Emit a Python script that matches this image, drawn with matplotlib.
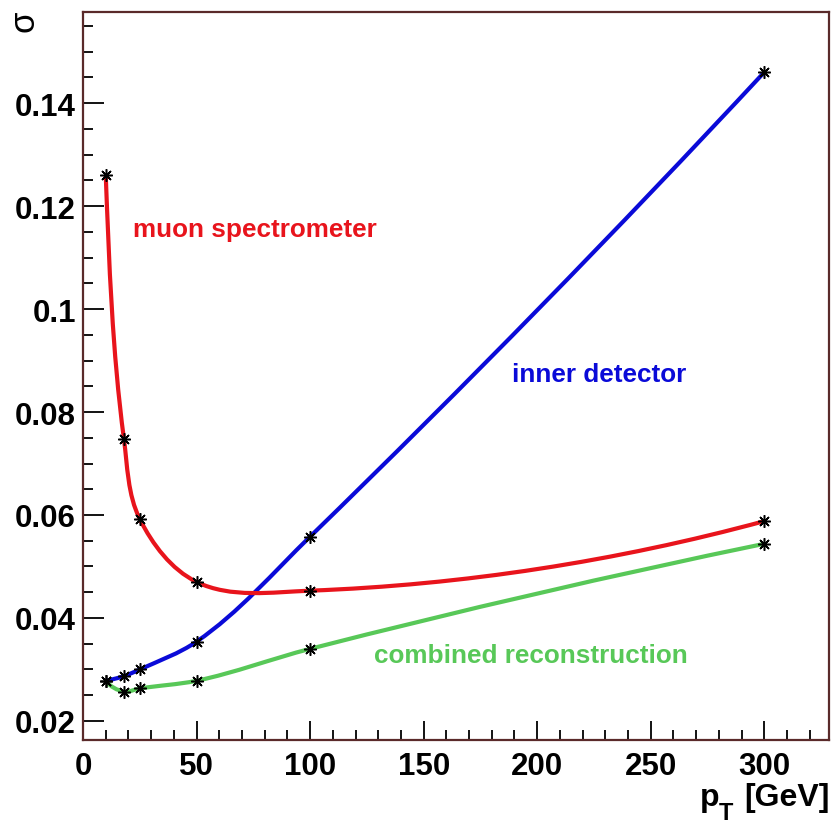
import matplotlib
matplotlib.use('Agg')
from matplotlib import pyplot as plt
from matplotlib.path import Path
from matplotlib.patches import PathPatch
from matplotlib.ticker import MultipleLocator
import numpy as np

plt.rcParams['font.family'] = ['Liberation Sans', 'DejaVu Sans']

pt = [10, 18, 25, 50, 100, 300]
muon = [0.126, 0.0748, 0.0592, 0.0470, 0.0453, 0.0588]
inner = [0.0278, 0.0287, 0.0300, 0.0354, 0.0558, 0.1460]
combined = [0.0277, 0.0257, 0.0263, 0.0278, 0.0340, 0.0544]

xlim = (0, 328.5)
ylim = (0.0163, 0.1577)

fig = plt.figure(figsize=(8.37, 8.28), dpi=100)
ax = fig.add_axes([0.0992, 0.1051, 0.8912, 0.8792])
ax.set_xlim(*xlim)
ax.set_ylim(*ylim)

# axes size in pixels, curves are smoothed in screen space like ROOT's "C" option
w_px = 0.8912 * 837
h_px = 0.8792 * 828


def unit(v):
    return v / np.linalg.norm(v)


def smooth_path(x, y):
    # hermite spline through the points in screen space, drawn as bezier path
    sx = w_px / (xlim[1] - xlim[0])
    sy = h_px / (ylim[1] - ylim[0])
    p = np.column_stack([np.asarray(x) * sx, np.asarray(y) * sy])
    n = len(p)
    h = np.linalg.norm(np.diff(p, axis=0), axis=1)
    s = np.diff(p, axis=0) / h[:, None]
    d = np.zeros_like(p)
    for i in range(1, n - 1):
        a = (s[i - 1] * h[i] + s[i] * h[i - 1]) / (h[i - 1] + h[i])
        b = unit(p[i + 1] - p[i - 1])
        d[i] = unit(a + b)
    u = unit(p[2] - p[0])
    d[0] = 2 * np.dot(s[0], u) * s[0] - u
    d[-1] = unit(2 * s[-1] - d[-2])
    verts = [p[0]]
    codes = [Path.MOVETO]
    for i in range(n - 1):
        verts += [p[i] + h[i] * d[i] / 3, p[i + 1] - h[i] * d[i + 1] / 3, p[i + 1]]
        codes += [Path.CURVE4] * 3
    verts = np.array(verts)
    verts[:, 0] /= sx
    verts[:, 1] /= sy
    return Path(verts, codes)


for ys, col in [(inner, '#0a0ad8'), (combined, '#58c858'), (muon, '#e8141c')]:
    ax.add_patch(PathPatch(smooth_path(pt, ys), facecolor='none',
                           edgecolor=col, lw=3, zorder=2))
    ax.plot(pt, ys, ls='none', marker=(8, 2, 0), ms=9, mew=1.1,
            color='black', zorder=3)

ax.text(22, 0.1155, 'muon spectrometer', color='#e8141c', fontsize=18.8,
        fontweight='bold', va='center', ha='left')
ax.text(189, 0.0874, 'inner detector', color='#0a0ad8', fontsize=18.8,
        fontweight='bold', va='center', ha='left')
ax.text(128, 0.0329, 'combined reconstruction', color='#58c858', fontsize=18.8,
        fontweight='bold', va='center', ha='left')

for s in ['top', 'right', 'left', 'bottom']:
    ax.spines[s].set_color('#5a2a2a')
    ax.spines[s].set_linewidth(1.6)

ax.xaxis.set_minor_locator(MultipleLocator(10))
ax.yaxis.set_minor_locator(MultipleLocator(0.005))
ax.tick_params(which='both', direction='in', top=False, right=False,
               color='black', width=1.3)
ax.tick_params(which='major', length=15, labelsize=22.5)
ax.tick_params(axis='x', which='major', length=14, pad=8)
ax.tick_params(axis='y', which='major', pad=5)
ax.tick_params(which='minor', length=7.5)
ax.set_xticks([0, 50, 100, 150, 200, 250, 300])
ax.set_xticklabels(['0', '50', '100', '150', '200', '250', '300'],
                   fontweight='bold')
ax.set_yticks([0.02, 0.04, 0.06, 0.08, 0.1, 0.12, 0.14])
ax.set_yticklabels(['0.02', '0.04', '0.06', '0.08', '0.1', '0.12', '0.14'],
                   fontweight='bold')

fig.text(0.0285, 0.9746, 'σ', fontsize=25, rotation=90, ha='center', va='center')
fig.text(700 / 837, 22 / 828, 'p', fontsize=23, fontweight='bold',
         ha='left', va='baseline')
fig.text(719 / 837, 8 / 828, 'T', fontsize=17, fontweight='bold',
         ha='left', va='baseline')
fig.text(0.991, 22 / 828, '[GeV]', fontsize=23, fontweight='bold',
         ha='right', va='baseline')

fig.savefig('out.png', dpi=100)
